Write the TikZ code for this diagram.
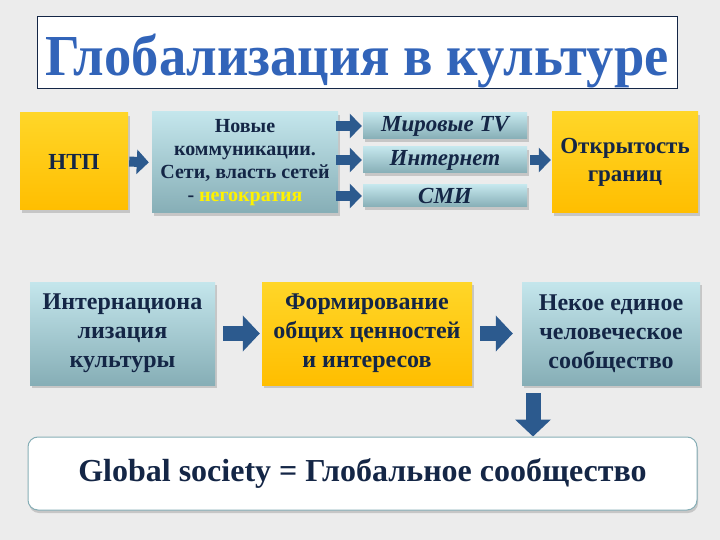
\documentclass[tikz,border=0pt]{standalone}
\usepackage{fontspec}
\setmainfont{Liberation Serif}
\usetikzlibrary{shadows,arrows.meta,positioning}

\definecolor{bgpaper}{RGB}{236,236,236}
\definecolor{inkblue}{RGB}{20,38,70}
\definecolor{titleblue}{RGB}{50,100,185}
\definecolor{gold1}{RGB}{255,214,40}
\definecolor{gold2}{RGB}{255,190,0}
\definecolor{teal1}{RGB}{196,230,236}
\definecolor{teal2}{RGB}{134,174,182}
\definecolor{flowblue}{RGB}{44,90,142}
\definecolor{hiyellow}{RGB}{255,242,0}

\def\bigfont{\fontsize{24}{29}\selectfont\bfseries}
\def\smallfont{\fontsize{20}{23}\selectfont\bfseries}
\def\mediafont{\fontsize{23}{24}\selectfont\bfseries\itshape}

\begin{document}
\begin{tikzpicture}[x=1pt,y=-1pt]
    \tikzstyle{card}=[rectangle,draw=none,text=inkblue,align=center,inner sep=2pt,
                      drop shadow={opacity=0.35,shadow xshift=2pt,shadow yshift=-3pt}]
    \tikzstyle{goldcard}=[card,top color=gold1,bottom color=gold2]
    \tikzstyle{tealcard}=[card,top color=teal1,bottom color=teal2]
    \tikzstyle{flow}=[draw=flowblue,line width=10pt,-{Triangle[length=12pt,width=24pt]}]
    \tikzstyle{bigflow}=[draw=flowblue,line width=15pt,-{Triangle[length=17pt,width=35pt]}]

    %%% BACKGROUND
    \fill[bgpaper] (0,0) rectangle (720,540);
    \useasboundingbox (0,0) rectangle (720,540);

    %%% TITLE
    \node[draw=inkblue,line width=0.8pt,fill=white,minimum width=640pt,minimum height=72pt,
          text height=46pt,text depth=0pt,
          text=titleblue,font=\fontsize{58}{60}\selectfont\bfseries] (T) at (357,52.5)
          {\scalebox{0.94}[1]{Глобализация в культуре}};

    %%% TOP ROW
    \node[goldcard,minimum width=108pt,minimum height=97pt,font=\fontsize{23}{26}\selectfont\bfseries]
          (N) at (74,161.5) {НТП};
    \node[tealcard,minimum width=186pt,minimum height=101pt,font=\smallfont]
          (C) at (245,162.5) {Новые\\коммуникации.\\Сети, власть сетей\\- \textcolor{hiyellow}{негократия}};

    \foreach \name / \y / \h in {1/126/26, 2/160/26, 3/196/22}
        \node[tealcard,minimum width=164pt,minimum height=\h pt,inner sep=0pt] (M-\name) at (445,\y) {};
    \node[font=\mediafont,text=inkblue] (M-1-t) at (M-1) {Мировые TV};
    \node[font=\mediafont,text=inkblue] (M-2-t) at (M-2) {Интернет};
    \node[font=\mediafont,text=inkblue] (M-3-t) at (M-3) {СМИ};

    \node[goldcard,minimum width=146pt,minimum height=101pt,font=\fontsize{23}{28}\selectfont\bfseries]
          (O) at (625,162.5) {Открытость\\границ};

    %%% BOTTOM ROW
    \node[tealcard,minimum width=185pt,minimum height=103pt,font=\bigfont]
          (S-1) at (122.5,333.5) {Интернациона\\лизация\\культуры};
    \node[goldcard,minimum width=210pt,minimum height=103pt,font=\bigfont]
          (S-2) at (367,333.5) {Формирование\\общих ценностей\\и интересов};
    \node[tealcard,minimum width=178pt,minimum height=103pt,font=\bigfont]
          (S-3) at (611,333.5) {Некое единое\\человеческое\\сообщество};

    \node[rectangle,rounded corners=10pt,draw=teal2,line width=1pt,fill=white,
          minimum width=669pt,minimum height=73pt,text=inkblue,
          font=\fontsize{32}{34}\selectfont\bfseries,
          drop shadow={opacity=0.35,shadow xshift=1pt,shadow yshift=-3pt}]
          (G) at (362.5,473.5) {Global society = Глобальное сообщество};

    %%% ARROWS
    \draw[flow,shorten <=1pt,shorten >=3pt] (N.east) -- (C.west);
    \foreach \name in {1,2,3}
        \draw[flow,shorten <=-2pt,shorten >=1pt] (C.east |- M-\name.west) -- (M-\name.west);
    \draw[flow,shorten <=3pt,shorten >=1pt] (M-2.east) -- (M-2.east -| O.west);
    \draw[bigflow,shorten <=8pt,shorten >=2pt] (S-1.east) -- (S-2.west);
    \draw[bigflow,shorten <=8pt,shorten >=9pt] (S-2.east) -- (S-3.west);
    \coordinate (D) at ([xshift=-78pt,yshift=-8pt]S-3.south);
    \draw[bigflow] (D) -- (D |- G.north);

\end{tikzpicture}
\end{document}
